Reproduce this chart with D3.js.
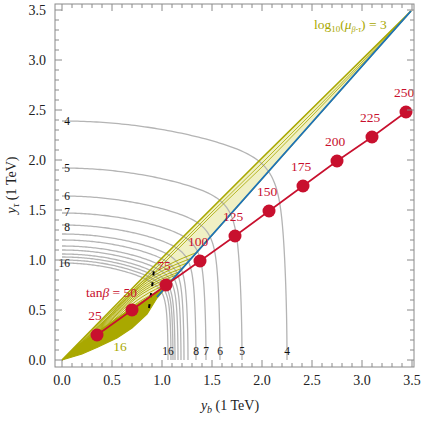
<!DOCTYPE html>
<html>
<head>
<meta charset="utf-8">
<script src="https://cdnjs.cloudflare.com/ajax/libs/d3/7.8.5/d3.min.js"></script>
<style>
body { margin: 0; background: #fff; }
</style>
</head>
<body>
<script>
// gray contour family: level, where it meets the y axis and the x axis
var levels = [4, 5, 6, 7, 8, 9, 10, 11, 12, 13, 14, 15, 16];
var yCut = [2.39, 1.92, 1.64, 1.47, 1.35, 1.26, 1.20, 1.14, 1.10, 1.06, 1.03, 1.00, 0.97];
var xCut = [2.25, 1.80, 1.58, 1.44, 1.34, 1.26, 1.22, 1.19, 1.16, 1.13, 1.11, 1.09, 1.06];
var labelled = [4, 5, 6, 7, 8, 16];

// tan(beta) points
var tanb = [25, 50, 75, 100, 125, 150, 175, 200, 225, 250];
var yb = [0.35, 0.70, 1.04, 1.38, 1.73, 2.07, 2.41, 2.75, 3.10, 3.44];
var yt = [0.25, 0.50, 0.75, 0.99, 1.24, 1.49, 1.74, 1.99, 2.23, 2.48];

// b-tau band (log10 mu contours)
var bandUpper = [[0, 0], [0.5, 0.51], [1.0, 1.02], [2.0, 2.02], [3.49, 3.49]];
var bandLower = [[0, 0], [0.2, 0.06], [0.36, 0.13], [0.55, 0.22], [0.70, 0.32], [0.85, 0.46], [0.95, 0.62], [1.2, 0.91], [3.49, 3.49]];
var darkPart = [[0, 0], [0.2, 0.06], [0.36, 0.13], [0.55, 0.22], [0.70, 0.32], [0.85, 0.46], [0.95, 0.62], [1.04, 0.74], [0.70, 0.53], [0.36, 0.29], [0.15, 0.145], [0, 0]];
var longLines = [
  [[0, 0], [0.5, 0.49], [1.0, 0.98], [1.5, 1.48], [2.0, 1.97], [2.5, 2.47], [3.0, 2.98], [3.49, 3.49]],
  [[0, 0], [0.5, 0.47], [1.0, 0.95], [1.5, 1.45], [2.0, 1.93], [2.5, 2.44], [3.0, 2.96], [3.49, 3.49]]
];
var shortLines = [
  [[0, 0], [0.4, 0.37], [0.8, 0.78], [1.36, 1.08]],
  [[0, 0], [0.4, 0.36], [0.8, 0.76], [1.30, 1.02]],
  [[0, 0], [0.4, 0.35], [0.8, 0.74], [1.25, 0.97]],
  [[0, 0], [0.4, 0.34], [0.8, 0.72], [1.21, 0.92]],
  [[0, 0], [0.4, 0.33], [0.8, 0.70], [1.17, 0.88]],
  [[0, 0], [0.4, 0.32], [0.8, 0.68], [1.14, 0.85]],
  [[0, 0], [0.4, 0.31], [0.8, 0.66], [1.11, 0.81]],
  [[0, 0], [0.4, 0.30], [0.8, 0.63], [1.07, 0.77]],
  [[0, 0], [0.4, 0.29], [0.8, 0.60], [1.03, 0.72]],
  [[0, 0], [0.4, 0.28], [0.8, 0.57], [1.00, 0.68]]
];
var blueLine = [[0.95, 0.63], [3.49, 3.49]];
var dashed = [[0.87, 0.52], [0.89, 0.66], [0.91, 0.80], [0.92, 0.92]];

var W = 425, H = 423;
var olive = "#a9a800", red = "#c8102e", gray = "#b4b4b4";
var serif = "'Liberation Serif', 'Times New Roman', Times, 'DejaVu Serif', serif";

var x = d3.scaleLinear().domain([-0.07, 3.52]).range([55, 414]);
var y = d3.scaleLinear().domain([-0.07, 3.56]).range([367, 4]);

var svg = d3.select("body").append("svg").attr("width", W).attr("height", H)
  .attr("font-family", serif);

var line = d3.line().x(function(d) { return x(d[0]); }).y(function(d) { return y(d[1]); });
var smooth = d3.line().x(function(d) { return x(d[0]); }).y(function(d) { return y(d[1]); }).curve(d3.curveMonotoneX);

svg.append("defs").append("clipPath").attr("id", "plot")
  .append("rect").attr("x", 55).attr("y", 4).attr("width", 359).attr("height", 363);

var g = svg.append("g").attr("clip-path", "url(#plot)");

// gray contours: top branch y^2 + k1 x^2 = b^2, right branch x^2 + k2 y^2 = a^2, joined smoothly
function contour(a, b) {
  var k1 = 0.40, k2 = 0.10, n = 16, pts = [];
  for (var i = 0; i <= 120; i++) {
    var th = Math.PI / 2 * i / 120, c = Math.cos(th), s = Math.sin(th);
    var n1 = Math.sqrt(s * s + k1 * c * c) / b, n2 = Math.sqrt(c * c + k2 * s * s) / a;
    var r = 1 / Math.pow(Math.pow(n1, n) + Math.pow(n2, n), 1 / n);
    pts.push([r * c, r * s]);
  }
  return pts;
}

// pale band fill under the gray contours
g.append("path").attr("d", line(bandUpper.concat(bandLower.slice().reverse())))
  .attr("fill", "#f0f0c4").attr("stroke", "none");

levels.forEach(function(l, i) {
  g.append("path").attr("d", line(contour(xCut[i], yCut[i])))
    .attr("fill", "none").attr("stroke", gray).attr("stroke-width", 1.3);
});

// band lines
g.append("path").attr("d", line(darkPart)).attr("fill", olive).attr("stroke", "none");
shortLines.forEach(function(p) {
  g.append("path").attr("d", smooth(p)).attr("fill", "none").attr("stroke", olive).attr("stroke-width", 0.9);
});
longLines.forEach(function(p) {
  g.append("path").attr("d", line(p)).attr("fill", "none").attr("stroke", olive).attr("stroke-width", 0.8);
});
g.append("path").attr("d", line(bandUpper)).attr("fill", "none").attr("stroke", olive).attr("stroke-width", 1.6);
g.append("path").attr("d", line(bandLower)).attr("fill", "none").attr("stroke", olive).attr("stroke-width", 1.2);
g.append("path").attr("d", line(blueLine)).attr("fill", "none").attr("stroke", "#1a72bf").attr("stroke-width", 1.8);

g.append("path").attr("d", line(dashed)).attr("fill", "none").attr("stroke", "#000")
  .attr("stroke-width", 2).attr("stroke-dasharray", "4,7");

// contour labels
labelled.forEach(function(l) {
  var i = levels.indexOf(l);
  var nudge = l === 7 ? -1 : (l === 8 ? 1.5 : 0);
  svg.append("text").attr("x", 70).attr("y", y(yCut[i]) + 4 + nudge).attr("text-anchor", "end")
    .attr("font-size", 11.5).attr("fill", "#111").text(l);
  svg.append("text").attr("x", x(xCut[i])).attr("y", 355).attr("text-anchor", "middle")
    .attr("font-size", 11.5).attr("fill", "#111").text(l);
});

// tan beta
var pts = tanb.map(function(t, i) { return [yb[i], yt[i]]; });
g.append("path").attr("d", line(pts)).attr("fill", "none").attr("stroke", red).attr("stroke-width", 1.6);
g.selectAll("circle.tb").data(pts).enter().append("circle")
  .attr("cx", function(d) { return x(d[0]); }).attr("cy", function(d) { return y(d[1]); })
  .attr("r", 6.5).attr("fill", red);
tanb.forEach(function(t, i) {
  if (t === 50) {
    var tx = svg.append("text").attr("x", x(yb[i]) + 5).attr("y", y(yt[i]) - 13)
      .attr("text-anchor", "end").attr("font-size", 13.5).attr("fill", red);
    tx.append("tspan").text("tan");
    tx.append("tspan").attr("font-style", "italic").text("\u03B2");
    tx.append("tspan").text(" = 50");
  } else {
    svg.append("text").attr("x", x(yb[i]) - 2).attr("y", y(yt[i]) - 15)
      .attr("text-anchor", "middle").attr("font-size", 13.5).attr("fill", red).text(t);
  }
});

// olive labels
svg.append("text").attr("x", x(0.58)).attr("y", 351).attr("text-anchor", "middle")
  .attr("font-size", 13.5).attr("fill", olive).text("16");
var lt = svg.append("text").attr("x", 314).attr("y", 29).attr("font-size", 13.5).attr("fill", olive);
lt.append("tspan").text("log");
lt.append("tspan").attr("font-size", 9).attr("dy", 3).text("10");
lt.append("tspan").attr("dy", -3).text("(");
lt.append("tspan").attr("font-style", "italic").text("\u03BC");
lt.append("tspan").attr("font-style", "italic").attr("font-size", 8).attr("dy", 3).text("\u03B2-\u03C4");
lt.append("tspan").attr("dy", -3).text(") = 3");

// frame and ticks
var frame = "#8a8a8a";
svg.append("rect").attr("x", 55).attr("y", 4).attr("width", 359).attr("height", 363)
  .attr("fill", "none").attr("stroke", frame).attr("stroke-width", 1);
var tv = d3.range(0, 36).map(function(i) { return i / 10; });
tv.forEach(function(v, i) {
  var len = i % 5 === 0 ? 7 : 4;
  svg.append("line").attr("x1", x(v)).attr("x2", x(v)).attr("y1", 367).attr("y2", 367 - len).attr("stroke", frame);
  svg.append("line").attr("x1", x(v)).attr("x2", x(v)).attr("y1", 4).attr("y2", 4 + len).attr("stroke", frame);
  svg.append("line").attr("y1", y(v)).attr("y2", y(v)).attr("x1", 55).attr("x2", 55 + len).attr("stroke", frame);
  svg.append("line").attr("y1", y(v)).attr("y2", y(v)).attr("x1", 414).attr("x2", 414 - len).attr("stroke", frame);
});
var major = d3.range(0, 8).map(function(i) { return i / 2; });
major.forEach(function(v) {
  svg.append("text").attr("x", x(v)).attr("y", 385).attr("text-anchor", "middle")
    .attr("font-size", 14).attr("fill", "#222").text(d3.format(".1f")(v));
  svg.append("text").attr("x", 46).attr("y", y(v) + 4.5).attr("text-anchor", "end")
    .attr("font-size", 14).attr("fill", "#222").text(d3.format(".1f")(v));
});

// axis titles
var xt = svg.append("text").attr("x", 230).attr("y", 410).attr("text-anchor", "middle")
  .attr("font-size", 14).attr("fill", "#222");
xt.append("tspan").attr("font-style", "italic").text("y");
xt.append("tspan").attr("font-style", "italic").attr("font-size", 10).attr("dy", 3).text("b");
xt.append("tspan").attr("dy", -3).text(" (1 TeV)");
var yt2 = svg.append("text").attr("transform", "translate(16,185) rotate(-90)").attr("text-anchor", "middle")
  .attr("font-size", 14).attr("fill", "#222");
yt2.append("tspan").attr("font-style", "italic").text("y");
yt2.append("tspan").attr("font-style", "italic").attr("font-size", 10).attr("dy", 3).text("\u03C4");
yt2.append("tspan").attr("dy", -3).text(" (1 TeV)");
</script>
</body>
</html>
